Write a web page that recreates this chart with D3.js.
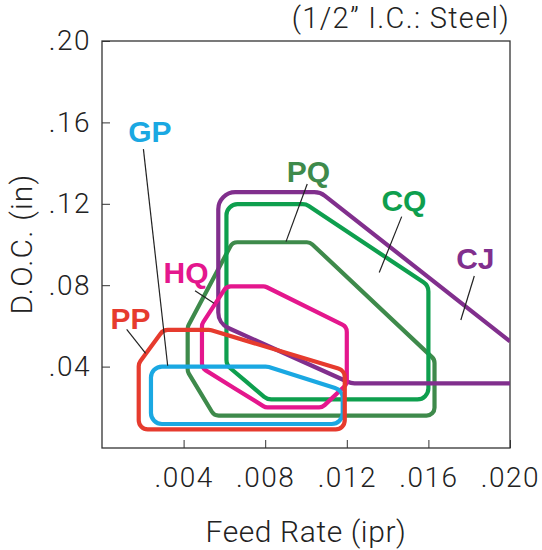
<!DOCTYPE html>
<html>
<head>
<meta charset="utf-8">
<script src="https://cdn.jsdelivr.net/npm/d3@7"></script>
<style>
  body { margin: 0; background: #fff; }
  svg { display: block; }
  .axis text { font-family: Roboto, "Liberation Sans", sans-serif; font-weight: 300; fill: #222; letter-spacing: 1.5px; }
  .axis line, .axis path { stroke: #333; }
  .lbl { font-family: "Liberation Sans", Arial, sans-serif; font-weight: bold; }
  .ttl { font-family: Roboto, "Liberation Sans", sans-serif; font-weight: 300; fill: #222; }
</style>
</head>
<body>
<div id="chart"></div>
<script>
// feed rate (ipr) / depth of cut (in) outlines
var regions = ["PQ", "CQ", "CJ", "HQ", "GP", "PP"];

var GP = [[0.0024, 0.0118], [0.0024, 0.0400], [0.0081, 0.0400], [0.0118, 0.0283], [0.0118, 0.0118]];
var PP = [[0.0018, 0.0092], [0.0018, 0.0416], [0.0030, 0.0580], [0.0053, 0.0580], [0.0119, 0.0381], [0.0119, 0.0092]];
var HQ = [[0.0049, 0.0393], [0.0049, 0.0609], [0.0061, 0.0794], [0.0080, 0.0794], [0.0120, 0.0595], [0.0120, 0.0314], [0.0108, 0.0200], [0.0080, 0.0200]];
var PQ = [[0.0042, 0.0375], [0.0042, 0.0596], [0.0064, 0.1011], [0.0102, 0.1011], [0.0163, 0.0435], [0.0163, 0.0159], [0.0055, 0.0159]];
var CQ = [[0.0061, 0.0408], [0.0061, 0.1198], [0.0100, 0.1198], [0.0160, 0.0798], [0.0160, 0.0239], [0.0081, 0.0239]];
// CJ runs off the right edge, so it is an open line
var CJ = [[0.0200, 0.0524], [0.0107, 0.1257], [0.0057, 0.1257], [0.0057, 0.0612], [0.0122, 0.0318], [0.0200, 0.0318]];

// label anchor (centre, baseline) and leader line ends, in data units
var labelAt = {GP: [0.00235, 0.1506], PQ: [0.01012, 0.1309], CQ: [0.0148, 0.1166],
               CJ: [0.0183, 0.0878], HQ: [0.00412, 0.0812], PP: [0.0014, 0.0583]};
var leaders = {GP: [[0.00203, 0.1469], [0.00322, 0.0404]], PQ: [[0.01006, 0.1297], [0.00902, 0.1014]],
               CQ: [[0.01469, 0.1137], [0.01359, 0.0862]], CJ: [[0.01825, 0.0845], [0.01759, 0.0629]],
               HQ: [[0.00456, 0.0773], [0.00549, 0.0711]], PP: [[0.00121, 0.0583], [0.00214, 0.0465]]};

var xTicks = [0.004, 0.008, 0.012, 0.016, 0.020];
var yTicks = [0.04, 0.08, 0.12, 0.16, 0.20];

var shapes = {GP: GP, PP: PP, HQ: HQ, PQ: PQ, CQ: CQ, CJ: CJ};
var colors = {GP: "#1aa8e2", PP: "#e63b2e", HQ: "#e4178d", PQ: "#3e8a4b", CQ: "#0e9f4e", CJ: "#812f8d"};
var radius = {GP: 11, PP: 9, HQ: 8, PQ: 8, CQ: 11, CJ: 17};

var chartWidth = 542, chartHeight = 550,
    margin = {top: 41, right: 32, bottom: 102, left: 102},
    width = chartWidth - margin.left - margin.right,
    height = chartHeight - margin.top - margin.bottom;

var svg = d3.select("#chart").append("svg")
    .attr("width", chartWidth)
    .attr("height", chartHeight);

var x = d3.scaleLinear().domain([0, 0.020]).range([0, width]);
var y = d3.scaleLinear().domain([0, 0.20]).range([height, 0]);

var g = svg.append("g")
    .attr("transform", "translate(" + margin.left + "," + margin.top + ")");

svg.append("defs").append("clipPath").attr("id", "plot")
  .append("rect").attr("width", width).attr("height", height);

// rounded corner outline through the scales
function outline(pts, r, closed) {
  var p = pts.map(function(d) { return [x(d[0]), y(d[1])]; }),
      path = d3.path(), n = p.length;
  if (closed) {
    path.moveTo((p[n - 1][0] + p[0][0]) / 2, (p[n - 1][1] + p[0][1]) / 2);
    for (var i = 0; i < n; i++) {
      var b = p[(i + 1) % n];
      path.arcTo(p[i][0], p[i][1], b[0], b[1], r);
    }
    path.closePath();
  } else {
    path.moveTo(p[0][0], p[0][1]);
    for (var j = 1; j < n - 1; j++) path.arcTo(p[j][0], p[j][1], p[j + 1][0], p[j + 1][1], r);
    path.lineTo(p[n - 1][0], p[n - 1][1]);
  }
  return path.toString();
}

g.append("g")
    .attr("class", "axis axis--x")
    .attr("transform", "translate(0," + height + ")")
    .call(d3.axisBottom(x).tickValues(xTicks).tickSizeInner(-8).tickSizeOuter(0).tickPadding(19)
      .tickFormat(function(d) { return d3.format(".3f")(d).replace(/^0/, ""); }))
    .call(function(a) { a.selectAll("text").attr("font-size", 28); a.select(".domain").remove(); });

g.append("g")
    .attr("class", "axis axis--y")
    .call(d3.axisLeft(y).tickValues(yTicks).tickSizeInner(-8).tickSizeOuter(0).tickPadding(11)
      .tickFormat(function(d) { return d3.format(".2f")(d).replace(/^0/, ""); }))
    .call(function(a) { a.selectAll("text").attr("font-size", 28); a.select(".domain").remove(); });

g.append("rect")
    .attr("width", width).attr("height", height)
    .attr("fill", "none").attr("stroke", "#333").attr("stroke-width", 1.3);

g.append("g").attr("clip-path", "url(#plot)")
  .selectAll(".zone")
  .data(regions)
  .enter().append("path")
    .attr("class", "zone")
    .attr("d", function(k) { return outline(shapes[k], radius[k], k !== "CJ"); })
    .attr("fill", "none")
    .attr("stroke", function(k) { return colors[k]; })
    .attr("stroke-width", 4.2);

g.selectAll(".leader")
  .data(regions)
  .enter().append("line")
    .attr("class", "leader")
    .attr("x1", function(k) { return x(leaders[k][0][0]); })
    .attr("y1", function(k) { return y(leaders[k][0][1]); })
    .attr("x2", function(k) { return x(leaders[k][1][0]); })
    .attr("y2", function(k) { return y(leaders[k][1][1]); })
    .attr("stroke", "#222")
    .attr("stroke-width", 1.2);

g.selectAll(".lbl")
  .data(regions)
  .enter().append("text")
    .attr("class", "lbl")
    .attr("x", function(k) { return x(labelAt[k][0]); })
    .attr("y", function(k) { return y(labelAt[k][1]); })
    .attr("text-anchor", "middle")
    .attr("font-size", 30)
    .attr("fill", function(k) { return colors[k]; })
    .text(function(k) { return k; });

svg.append("text")
    .attr("class", "ttl")
    .attr("x", margin.left + width)
    .attr("y", 27.5)
    .attr("text-anchor", "end")
    .attr("font-size", 29)
    .attr("letter-spacing", 1.3)
    .text("(1/2\u201D I.C.: Steel)");

svg.append("text")
    .attr("class", "ttl")
    .attr("x", margin.left + width / 2)
    .attr("y", 541.5)
    .attr("text-anchor", "middle")
    .attr("font-size", 30)
    .attr("letter-spacing", 0.6)
    .text("Feed Rate (ipr)");

svg.append("text")
    .attr("class", "ttl")
    .attr("transform", "translate(31.5,244) rotate(-90)")
    .attr("text-anchor", "middle")
    .attr("font-size", 30)
    .attr("letter-spacing", 1.2)
    .text("D.O.C. (in)");
</script>
</body>
</html>
